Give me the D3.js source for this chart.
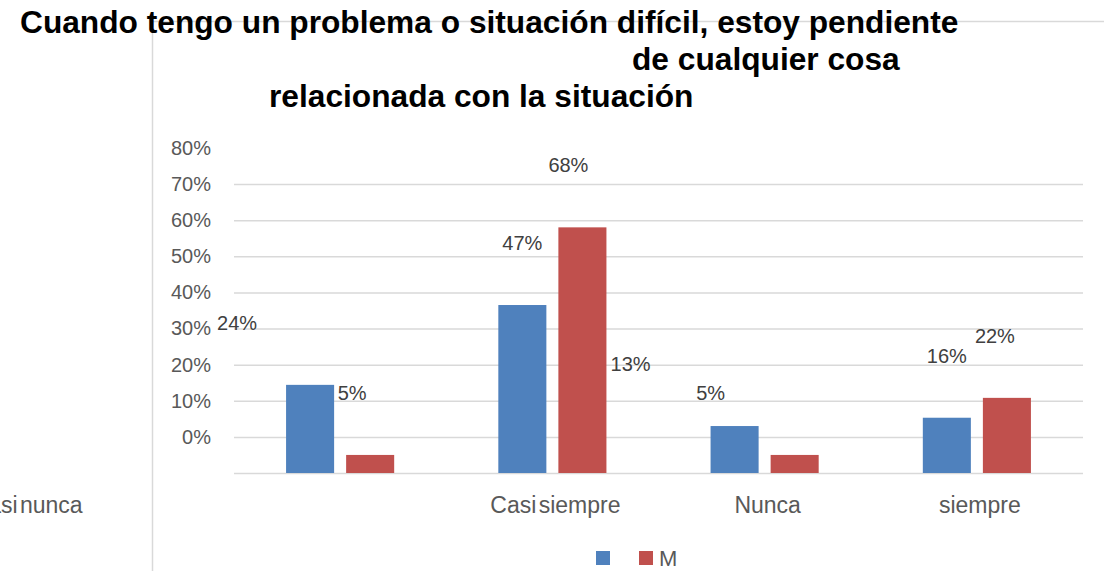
<!DOCTYPE html>
<html>
<head>
<meta charset="utf-8">
<script src="https://cdn.jsdelivr.net/npm/d3@7"></script>
<style>
  body { margin: 0; background: #fff; }
  svg { display: block; font-family: "Liberation Sans", Arial, sans-serif; }
</style>
</head>
<body>
<svg id="chart" width="1104" height="571"></svg>
<script>
// data
var categories = ["Casi nunca", "Casi siempre", "Nunca", "siempre"];
var seriesNames = ["", "M"];
var blueValues = [0.244, 0.465, 0.13, 0.153];
var redValues = [0.05, 0.68, 0.05, 0.208];
var blueLabels = ["24%", "47%", "13%", "16%"];
var redLabels = ["5%", "68%", "5%", "22%"];
var tickValues = [0, 0.1, 0.2, 0.3, 0.4, 0.5, 0.6, 0.7, 0.8];
var titleLines = [
    "Cuando tengo un problema o situación difícil, estoy pendiente",
    "de cualquier cosa",
    "relacionada con la situación"
];

// layout (the labels in the original sit off their bars)
var colors = ["#4f81bd", "#c0504d"];
var labelDx = [[-73, 0, -104, 0], [-18, -14, -84, -12]];
var catDx = [-313, 3, 3, 3];
var titleX = [20, 632, 269];

var svg = d3.select("#chart");
var plotLeft = 234, plotRight = 1083, plotTop = 184, plotBottom = 473;

// frame border
svg.append("path")
    .attr("d", "M152.5,571V21.5H1104")
    .attr("fill", "none")
    .attr("stroke", "#d9d9d9")
    .attr("stroke-width", 1.5);

// title
svg.append("g").selectAll("text")
    .data(titleLines)
    .enter().append("text")
    .attr("x", function (d, i) { return titleX[i]; })
    .attr("y", function (d, i) { return 33 + i * 36.8; })
    .attr("font-size", 31.7)
    .attr("font-weight", "bold")
    .attr("fill", "#000")
    .text(function (d) { return d; });

var x0 = d3.scaleBand().domain(categories).range([plotLeft, plotRight]);
var x1 = d3.scaleBand().domain([0, 1]).range([0, x0.bandwidth()])
    .paddingInner(0.2).paddingOuter(0.867);
var y = d3.scaleLinear().domain([0, 0.8]).range([plotBottom, plotTop]);
// tick text is drawn one step above its gridline, as in the original
var yText = d3.scaleLinear().domain([-0.1, 0.7]).range([plotBottom, plotTop]);

// gridlines
var grid = svg.append("g")
    .attr("transform", "translate(" + plotLeft + ",0)")
    .call(d3.axisLeft(y).tickValues(tickValues).tickSize(-(plotRight - plotLeft)).tickFormat(""));
grid.select(".domain").remove();
grid.selectAll(".tick line").attr("stroke", "#d9d9d9").attr("stroke-width", 1.5);

// tick labels
var yAxis = svg.append("g")
    .attr("transform", "translate(211,0)")
    .call(d3.axisLeft(yText).tickValues(tickValues).tickSize(0).tickPadding(0)
        .tickFormat(d3.format(".0%")));
yAxis.select(".domain").remove();
yAxis.selectAll("text")
    .attr("font-size", 20)
    .attr("font-family", "Liberation Sans, Arial, sans-serif")
    .attr("fill", "#595959");

// bars
var series = [blueValues, redValues];
var seriesLabels = [blueLabels, redLabels];
series.forEach(function (vals, s) {
    svg.append("g").selectAll("rect")
        .data(vals)
        .enter().append("rect")
        .attr("x", function (d, i) { return x0(categories[i]) + x1(s); })
        .attr("y", function (d) { return y(d); })
        .attr("width", x1.bandwidth())
        .attr("height", function (d) { return y(0) - y(d); })
        .attr("fill", colors[s]);

    svg.append("g").selectAll("text")
        .data(vals)
        .enter().append("text")
        .attr("x", function (d, i) { return x0(categories[i]) + x1(s) + x1.bandwidth() / 2 + labelDx[s][i]; })
        .attr("y", function (d) { return y(d) - 62; })
        .attr("dy", "0.35em")
        .attr("text-anchor", "middle")
        .attr("font-size", 20)
        .attr("fill", "#404040")
        .text(function (d, i) { return seriesLabels[s][i]; });
});

// category labels
svg.append("g").selectAll("text")
    .data(categories)
    .enter().append("text")
    .attr("x", function (d, i) { return x0(d) + x0.bandwidth() / 2 + catDx[i]; })
    .attr("y", 505)
    .attr("dy", "0.35em")
    .attr("text-anchor", "middle")
    .attr("font-size", 23)
    .attr("word-spacing", -4)
    .attr("fill", "#595959")
    .text(function (d) { return d; });

// legend
var legend = svg.append("g").selectAll("g")
    .data(seriesNames)
    .enter().append("g")
    .attr("transform", function (d, i) { return "translate(" + (596 + i * 43) + ",551)"; });
legend.append("rect")
    .attr("width", 14).attr("height", 14)
    .attr("fill", function (d, i) { return colors[i]; });
legend.append("text")
    .attr("x", 20).attr("y", 7)
    .attr("dy", "0.35em")
    .attr("font-size", 22)
    .attr("fill", "#595959")
    .text(function (d) { return d; });
</script>
</body>
</html>
